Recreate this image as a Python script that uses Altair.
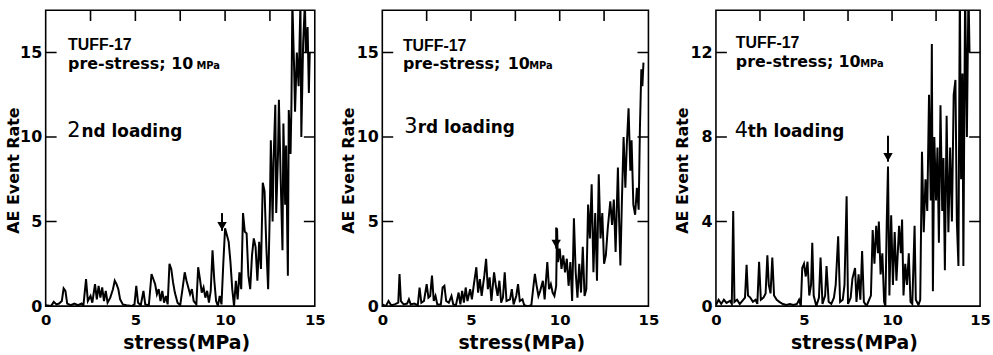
import altair as alt
import pandas as pd

# ---------------- data ----------------
p1_x = [0.0, 0.3, 0.45, 0.6, 0.75, 0.9, 1.0, 1.1, 1.2, 1.4, 1.6, 1.8, 2.0, 2.1, 2.25, 2.35, 2.5, 2.6, 2.75, 2.85,
        2.95, 3.05, 3.15, 3.25, 3.35, 3.45, 3.6, 3.75, 3.85, 3.95, 4.05, 4.15, 4.3, 4.5, 4.8, 4.95, 5.05, 5.15, 5.3, 5.45,
        5.55, 5.75, 5.9, 6.0, 6.1, 6.2, 6.3, 6.4, 6.5, 6.6, 6.7, 6.8, 6.9, 7.0, 7.1, 7.2, 7.35, 7.5, 7.65, 7.75,
        7.85, 7.95, 8.05, 8.15, 8.25, 8.4, 8.5, 8.6, 8.7, 8.8, 8.9, 9.0, 9.1, 9.2, 9.3, 9.4, 9.5, 9.6, 9.7, 9.8,
        9.9, 10.0, 10.1, 10.2, 10.3, 10.4, 10.5, 10.6, 10.7, 10.8, 10.9, 11.0, 11.1, 11.2, 11.3, 11.4, 11.5, 11.6, 11.7, 11.8,
        11.9, 12.0, 12.1, 12.2, 12.3, 12.4, 12.5, 12.55, 12.65, 12.7, 12.8, 12.85, 12.95, 13.0, 13.1, 13.2, 13.25, 13.35, 13.4, 13.5,
        13.55, 13.65, 13.7, 13.75, 13.85, 13.9, 14.0, 14.1, 14.2, 14.25, 14.35, 14.45, 14.5, 14.6, 14.67, 14.72]
p1_y = [0.05, 0.0, 0.25, 0.1, 0.15, 0.3, 1.05, 0.9, 0.15, 0.05, 0.15, 0.05, 0.15, 0.0, 1.6, 0.3, 0.6, 0.2, 1.3, 0.4,
        1.2, 0.5, 1.1, 0.3, 0.9, 0.2, 0.5, 1.0, 1.5, 1.3, 1.0, 0.4, 0.1, 0.05, 0.0, 0.1, 1.2, 0.2, 0.05, 0.9,
        0.1, 0.05, 1.9, 1.6, 1.3, 0.7, 1.0, 0.3, 0.9, 0.2, 0.6, 0.1, 2.5, 2.2, 1.4, 0.8, 0.2, 0.05, 1.2, 2.0,
        1.5, 1.1, 0.7, 1.0, 0.3, 0.1, 2.3, 1.6, 0.8, 1.1, 0.5, 0.9, 0.2, 0.9, 3.3, 1.5, 0.3, 0.0, 0.6, 0.1,
        2.5, 4.6, 4.2, 3.8, 2.6, 1.0, 0.0, 1.5, 0.4, 2.0, 1.0, 5.5, 4.4, 4.3, 1.8, 1.0, 3.0, 4.0, 3.5, 1.5,
        3.8, 2.2, 7.3, 6.8, 3.5, 1.0, 6.0, 9.8, 5.0, 8.5, 11.9, 5.5, 9.0, 12.2, 7.5, 3.3, 10.8, 6.0, 9.5, 1.8,
        11.6, 9.0, 12.0, 18.0, 14.0, 11.5, 15.0, 13.0, 18.0, 10.0, 15.5, 18.0, 15.0, 16.5, 12.6, 15.0]

p2_x = [0.0, 0.2, 0.35, 0.5, 0.7, 0.9, 0.97, 1.05, 1.2, 1.4, 1.5, 1.6, 1.8, 2.0, 2.1, 2.2, 2.35, 2.5, 2.6, 2.7,
        2.8, 2.9, 3.0, 3.1, 3.3, 3.4, 3.5, 3.6, 3.75, 3.9, 4.0, 4.15, 4.3, 4.4, 4.5, 4.6, 4.7, 4.8, 4.95, 5.05,
        5.15, 5.3, 5.4, 5.5, 5.6, 5.75, 5.85, 5.95, 6.05, 6.15, 6.3, 6.4, 6.5, 6.6, 6.7, 6.8, 6.9, 7.0, 7.2, 7.3,
        7.4, 7.55, 7.65, 7.75, 7.9, 8.0, 8.2, 8.4, 8.5, 8.6, 8.7, 8.8, 8.9, 9.05, 9.15, 9.3, 9.4, 9.5, 9.6, 9.7,
        9.8, 9.85, 9.9, 10.0, 10.1, 10.2, 10.3, 10.4, 10.5, 10.6, 10.7, 10.8, 10.9, 11.0, 11.1, 11.2, 11.3, 11.4, 11.5, 11.6,
        11.7, 11.8, 11.9, 12.0, 12.1, 12.2, 12.3, 12.4, 12.5, 12.6, 12.7, 12.85, 12.95, 13.05, 13.15, 13.28, 13.35, 13.42, 13.5, 13.6,
        13.7, 13.78, 13.88, 13.98, 14.05, 14.15, 14.25, 14.35, 14.45, 14.52, 14.6, 14.66, 14.72]
p2_y = [0.1, 0.0, 0.3, 0.05, 0.1, 0.2, 1.9, 0.3, 0.1, 0.15, 0.4, 0.1, 0.15, 0.05, 1.1, 0.2, 0.3, 1.3, 0.5, 0.6,
        1.8, 0.3, 0.6, 0.1, 0.1, 1.1, 1.2, 0.3, 0.2, 0.6, 0.1, 0.05, 0.8, 0.1, 0.9, 0.2, 1.1, 0.3, 1.0, 0.4,
        1.2, 2.3, 0.8, 1.6, 0.6, 1.8, 2.8, 1.0, 1.7, 0.3, 2.0, 1.2, 0.6, 1.5, 0.2, 0.5, 2.0, 0.3, 0.4, 1.0,
        0.1, 0.6, 1.3, 0.3, 0.4, 0.05, 0.0, 0.05, 1.0, 1.9, 1.2, 0.6, 0.9, 1.5, 0.4, 2.6, 1.0, 1.3, 0.8, 0.6,
        1.2, 4.6, 2.6, 3.4, 2.2, 3.0, 2.0, 2.8, 1.2, 2.6, 0.3, 5.2, 2.0, 0.5, 2.5, 0.8, 3.5, 0.6, 1.0, 6.0,
        4.0, 7.2, 2.0, 5.5, 1.5, 7.8, 4.0, 5.5, 2.5, 3.0, 4.5, 6.2, 4.8, 6.3, 3.2, 8.2, 5.0, 2.4, 6.0, 10.0,
        7.0, 9.5, 11.7, 8.0, 9.8, 6.0, 5.4, 7.0, 5.7, 10.5, 14.0, 13.0, 14.4]

p3_x = [0.0, 0.15, 0.3, 0.45, 0.6, 0.8, 0.9, 0.98, 1.05, 1.2, 1.35, 1.5, 1.65, 1.74, 1.82, 1.95, 2.1, 2.25, 2.35, 2.45,
        2.55, 2.7, 2.82, 2.92, 3.0, 3.1, 3.2, 3.3, 3.45, 3.6, 3.8, 4.0, 4.2, 4.4, 4.6, 4.72, 4.82, 4.9, 5.0, 5.1,
        5.2, 5.3, 5.4, 5.47, 5.55, 5.7, 5.85, 5.94, 6.05, 6.2, 6.28, 6.4, 6.55, 6.7, 6.8, 6.94, 7.05, 7.2, 7.3, 7.42,
        7.5, 7.65, 7.75, 7.9, 7.98, 8.1, 8.2, 8.3, 8.4, 8.55, 8.7, 8.8, 8.9, 9.0, 9.1, 9.2, 9.25, 9.35, 9.45, 9.55,
        9.62, 9.7, 9.77, 9.85, 9.95, 10.05, 10.15, 10.25, 10.4, 10.5, 10.57, 10.65, 10.75, 10.85, 10.95, 11.05, 11.15, 11.28, 11.35, 11.5,
        11.6, 11.7, 11.8, 11.9, 12.0, 12.1, 12.2, 12.26, 12.32, 12.4, 12.5, 12.58, 12.66, 12.75, 12.85, 12.92, 13.0, 13.1, 13.2, 13.3,
        13.4, 13.5, 13.6, 13.68, 13.77, 13.85, 13.92, 14.0, 14.05, 14.15, 14.25, 14.34, 14.4]
p3_y = [0.05, 0.3, 0.1, 0.3, 0.15, 0.25, 0.1, 4.5, 0.2, 0.3, 0.1, 0.25, 0.4, 1.95, 0.5, 0.4, 0.2, 0.3, 0.1, 2.1,
        0.3, 0.4, 0.6, 2.4, 1.0, 0.6, 2.3, 0.5, 0.3, 0.2, 0.1, 0.05, 0.1, 0.05, 0.1, 0.3, 0.0, 1.8, 2.0, 1.4,
        2.1, 0.5, 1.0, 3.0, 0.5, 0.0, 0.4, 2.3, 0.1, 0.5, 1.9, 0.2, 0.1, 0.4, 1.0, 3.3, 0.2, 0.3, 1.0, 5.2,
        0.1, 0.4, 1.3, 1.8, 0.2, 1.5, 0.3, 2.6, 0.2, 0.0, 0.3, 0.5, 3.6, 2.0, 3.8, 2.5, 4.0, 1.5, 2.5, 0.2,
        0.0, 4.0, 6.6, 0.5, 4.3, 1.0, 3.5, 1.2, 3.8, 2.5, 4.1, 0.5, 2.0, 1.0, 2.5, 0.2, 0.1, 3.8, 0.3, 0.05,
        0.3, 7.3, 3.5, 6.0, 4.5, 10.0, 5.0, 12.4, 0.7, 8.0, 5.0, 7.5, 3.0, 9.5, 4.5, 7.0, 1.7, 9.0, 3.5, 7.5,
        4.0, 10.0, 10.7, 4.0, 1.9, 15.0, 6.0, 11.0, 1.9, 15.0, 8.0, 15.0, 12.0]

panel_x = [p1_x, p2_x, p3_x]
panel_y = [p1_y, p2_y, p3_y]
y_max = [17.5, 17.5, 14.0]
y_ticks = [[0, 5, 10, 15], [0, 5, 10, 15], [0, 4, 8, 12]]
x_ticks = [0, 5, 10, 15]
x_minor = [2.5, 5, 7.5, 10, 12.5]

ordinals = ["2", "3", "4"]
ordinal_rest = ["nd loading", "rd loading", "th loading"]
# annotation anchors (data units): x of text, baselines
tuff_x = [1.25, 1.16, 1.13]
tuff_base = [15.15, 15.1, 12.23]
pre_base = [14.0, 14.04, 11.29]
ten_x = [7.0, 7.07, 6.96]
mpa_x = [8.4, 8.28, 8.19]
ord_x = [1.2, 1.23, 1.07]
rest_x = [2.0, 2.0, 1.8]
ord_base = [10.0, 10.25, 8.0]
arrow_x = [9.83, 9.8, 9.77]
arrow_tail = [5.5, 4.65, 8.06]
arrow_tip = [4.45, 3.4, 6.83]

widths = [271, 268, 266]
H = 298
title_x = [-32, -34, -34]

DJ = "DejaVu Sans"
LB = "Liberation Sans"


def make_panel(i):
    w = widths[i]
    df = pd.DataFrame({"stress": panel_x[i], "rate": panel_y[i]})
    xs = alt.Scale(domain=[0, 15], nice=False, zero=False)
    ys = alt.Scale(domain=[0, y_max[i]], nice=False, zero=False)
    X = alt.X("stress:Q", scale=xs)
    Y = alt.Y("rate:Q", scale=ys)

    main = alt.Chart(df).mark_line(color="black", strokeWidth=2, clip=True).encode(
        x=alt.X("stress:Q", scale=xs, axis=alt.Axis(
            values=x_ticks, ticks=False, domain=False, grid=False, labelFlush=False,
            labelPadding=7, labelFont=DJ, labelFontSize=15, labelFontWeight="bold", labelColor="black",
            title="stress(MPa)", titleFont=DJ, titleFontSize=19, titleFontWeight="bold", titleColor="black",
            titleX=w / 2 + 6, titleY=43, titleAlign="center", titleBaseline="alphabetic")),
        y=alt.Y("rate:Q", scale=ys, axis=alt.Axis(
            values=y_ticks[i], ticks=False, domain=False, grid=False, labelFlush=False,
            labelPadding=4, labelFont=DJ, labelFontSize=16, labelFontWeight="bold", labelColor="black",
            title="AE Event Rate", titleFont=DJ, titleFontSize=16, titleFontWeight="bold", titleColor="black",
            titleAngle=270, titleX=title_x[i], titleY=H / 2 + 12, titleAlign="center", titleBaseline="middle")),
    )

    # inward frame ticks: clipped ticks centred on the frame edges
    top_df = pd.DataFrame({"stress": x_minor, "rate": [y_max[i]] * len(x_minor)})
    top_ticks = alt.Chart(top_df).mark_tick(orient="vertical", size=22, thickness=1.6,
                                            color="black", opacity=1, clip=True).encode(x=X, y=Y)
    yt = y_ticks[i][1:]
    side_df = pd.DataFrame({"stress": [0.0] * len(yt) + [15.0] * len(yt), "rate": yt + yt})
    side_ticks = alt.Chart(side_df).mark_tick(orient="horizontal", size=22, thickness=1.6,
                                              color="black", opacity=1, clip=True).encode(x=X, y=Y)

    tuff = alt.Chart(pd.DataFrame({"stress": [tuff_x[i]], "rate": [tuff_base[i]], "t": ["TUFF-17"]})).mark_text(
        font=LB, fontSize=16, fontWeight="bold", align="left", baseline="alphabetic", color="black"
    ).encode(x=X, y=Y, text="t:N")

    bold_df = pd.DataFrame({
        "stress": [tuff_x[i], ten_x[i], mpa_x[i], rest_x[i]],
        "rate": [pre_base[i], pre_base[i], pre_base[i], ord_base[i]],
        "t": ["pre-stress;", "10", "MPa", ordinal_rest[i]],
        "s": [16, 16, 10, 17],
    })
    bold = alt.Chart(bold_df).mark_text(
        font=DJ, fontWeight="bold", align="left", baseline="alphabetic", color="black"
    ).encode(x=X, y=Y, text="t:N", size=alt.Size("s:Q", scale=None, legend=None))

    ordn = alt.Chart(pd.DataFrame({"stress": [ord_x[i]], "rate": [ord_base[i]], "t": [ordinals[i]]})).mark_text(
        font=DJ, fontSize=21, align="left", baseline="alphabetic", color="black"
    ).encode(x=X, y=Y, text="t:N")

    adf = pd.DataFrame({"stress": [arrow_x[i]], "rate": [arrow_tail[i]], "tip": [arrow_tip[i]]})
    shaft = alt.Chart(adf).mark_rule(color="black", strokeWidth=2).encode(x=X, y=Y, y2="tip:Q")
    head = alt.Chart(adf).mark_point(shape="triangle-down", filled=True, color="black", opacity=1,
                                     size=90, yOffset=-4.7).encode(
        x=X, y=alt.Y("tip:Q", scale=ys))

    return alt.layer(main, top_ticks, side_ticks, tuff, bold, ordn, shaft, head).properties(width=w, height=H)


chart = alt.hconcat(*[make_panel(i) for i in range(3)], spacing=13).properties(
    padding={"left": 5, "top": 8, "right": 1, "bottom": 0},
    background="white",
).configure_view(stroke="black", strokeWidth=1.6)

chart.save("out.html", embed_options={"renderer": "svg", "actions": False})
